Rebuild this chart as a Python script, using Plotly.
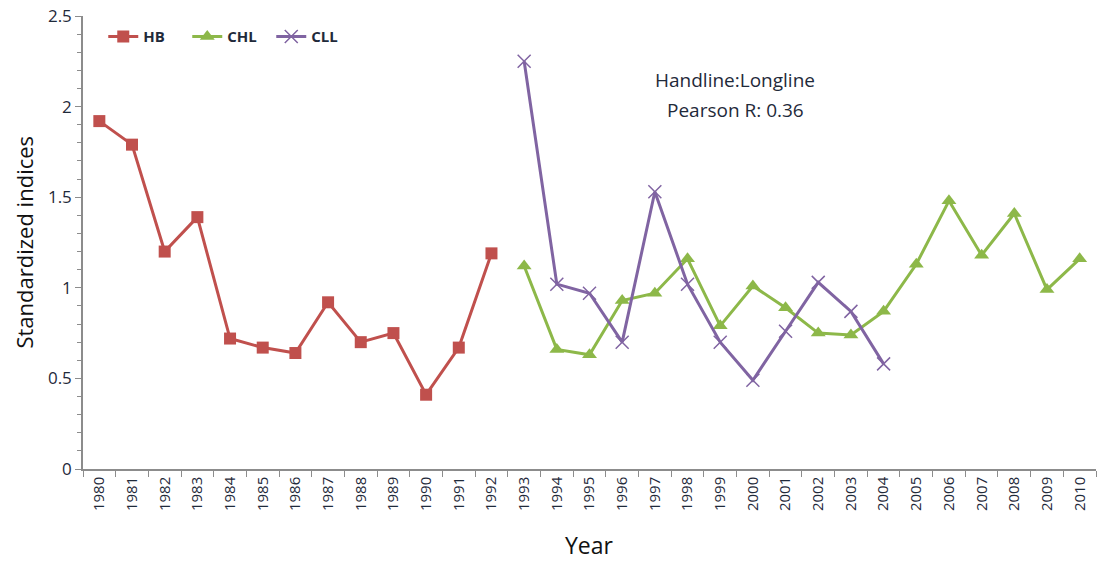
import plotly.graph_objects as go

years = [str(y) for y in range(1980, 2011)]

hb_years = [str(y) for y in range(1980, 1993)]
hb_vals = [1.92, 1.79, 1.20, 1.39, 0.72, 0.67, 0.64, 0.92, 0.70, 0.75, 0.41, 0.67, 1.19]

chl_years = [str(y) for y in range(1993, 2011)]
chl_vals = [1.12, 0.66, 0.63, 0.93, 0.97, 1.16, 0.79, 1.01, 0.89, 0.75, 0.74, 0.87,
            1.13, 1.48, 1.18, 1.41, 0.99, 1.16]

cll_years = [str(y) for y in range(1993, 2005)]
cll_vals = [2.25, 1.02, 0.97, 0.70, 1.53, 1.02, 0.70, 0.49, 0.76, 1.03, 0.87, 0.58]

y_ticks = [0, 0.5, 1, 1.5, 2, 2.5]
y_ticktext = ["0", "0.5", "1", "1.5", "2", "2.5"]

font_family = "Open Sans, DejaVu Sans, sans-serif"
text_color = "#1f2a3a"
axis_color = "#8c8c8c"

fig = go.Figure()
fig.add_trace(go.Scatter(
    x=hb_years, y=hb_vals, name="HB", mode="lines+markers",
    line=dict(color="#C0504D", width=3),
    marker=dict(symbol="square", size=12, color="#C0504D")))
fig.add_trace(go.Scatter(
    x=chl_years, y=chl_vals, name="CHL", mode="lines+markers",
    line=dict(color="#8DB849", width=3),
    marker=dict(symbol="triangle-up", size=13, color="#8DB849")))
fig.add_trace(go.Scatter(
    x=cll_years, y=cll_vals, name="CLL", mode="lines+markers",
    line=dict(color="#8064A2", width=3),
    marker=dict(symbol="x-thin-open", size=13, line=dict(color="#9A82C0", width=1.5))))

# text annotation
fig.add_annotation(x=0.6436, y=0.8587, xref="paper", yref="paper", showarrow=False,
                   text="Handline:Longline", xanchor="center", yanchor="middle",
                   font=dict(family=font_family, size=19, color=text_color))
fig.add_annotation(x=0.6446, y=0.7925, xref="paper", yref="paper", showarrow=False,
                   text="Pearson R: 0.36", xanchor="center", yanchor="middle",
                   font=dict(family=font_family, size=19, color=text_color))
# axis titles
fig.add_annotation(x=-0.0592, y=0.5, xref="paper", yref="paper", showarrow=False,
                   text="Standardized indices", textangle=-90,
                   xanchor="center", yanchor="middle",
                   font=dict(family=font_family, size=22, color="#111111"))
fig.add_annotation(x=0.5, y=-0.168, xref="paper", yref="paper", showarrow=False,
                   text="Year", xanchor="center", yanchor="middle",
                   font=dict(family=font_family, size=23, color="#111111"))

fig.update_layout(
    width=1099, height=561,
    margin=dict(l=83, r=3, t=16, b=92),
    paper_bgcolor="white", plot_bgcolor="white",
    font=dict(family=font_family, color=text_color),
    showlegend=True,
    legend=dict(orientation="h", x=0.020, y=0.954, xanchor="left", yanchor="middle",
                font=dict(size=15, family=font_family, color=text_color, weight="bold"),
                entrywidth=39, entrywidthmode="pixels",
                bgcolor="rgba(0,0,0,0)"),
    xaxis=dict(
        type="category", categoryorder="array", categoryarray=years,
        range=[-0.5, 30.5], automargin=False,
        tickangle=-90, tickfont=dict(size=15, family=font_family, color=text_color),
        ticks="outside", ticklen=6, tickcolor=axis_color, tickson="boundaries",
        showline=True, linecolor=axis_color, linewidth=1.5,
        showgrid=False, zeroline=False),
    yaxis=dict(
        range=[0, 2.5], tickvals=y_ticks, ticktext=y_ticktext, automargin=False,
        ticklabeloverflow="allow",
        tickfont=dict(size=17, family=font_family, color=text_color),
        ticks="outside", ticklen=6, tickcolor=axis_color,
        minor=dict(dtick=0.1, ticks="outside", ticklen=4, tickcolor=axis_color, showgrid=False),
        showline=True, linecolor=axis_color, linewidth=1.5,
        showgrid=False, zeroline=False),
)

fig.write_html("out.html", config={"displayModeBar": False},
               post_script="document.body.style.margin='0';")
